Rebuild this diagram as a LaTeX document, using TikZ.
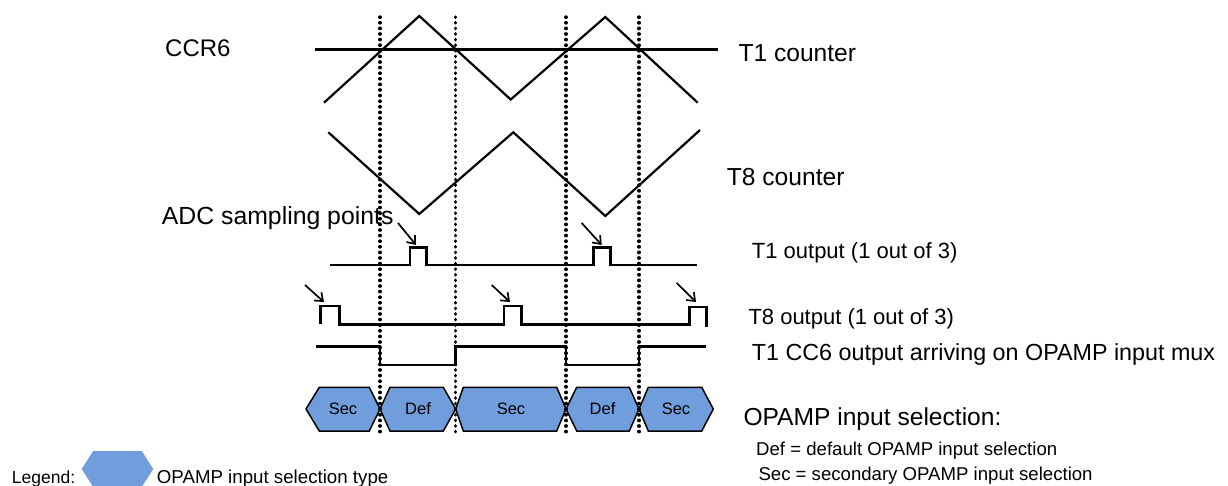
\documentclass[tikz,border=0pt]{standalone}
\usepackage{fontspec}
\setmainfont{Liberation Sans}
\usetikzlibrary{arrows.meta}
\definecolor{hexfill}{RGB}{112,158,220}
\newcommand{\fs}[1]{\fontsize{#1}{#1}\selectfont}
\begin{document}
\begin{tikzpicture}[x=1pt,y=-1pt,
  sig/.style={line width=2.8pt, line join=miter},
  tri/.style={line width=2.2pt, line join=miter},
  dots/.style={line width=3.4pt, dash pattern=on 0.4pt off 5.2pt, line cap=round},
  samp/.style={line width=1.7pt, -{Straight Barb[length=7pt,width=11pt,line width=1.7pt]}},
  hex/.style={draw=black, line width=1.5pt, fill=hexfill, line join=miter},
  lbl/.style={anchor=base west, inner sep=0pt},
  hexlbl/.style={inner sep=0pt, font=\fs{16.5}}]
\useasboundingbox (0,0) rectangle (1228,486);

% counters
\draw[sig] (315,49.3) -- (717.7,49.3);
\draw[tri] (324,102.7) -- (419.3,16) -- (510.7,99.5) -- (605.3,17) -- (697.7,102.7);
\draw[tri] (328.3,132.3) -- (419.3,214) -- (513.3,132.3) -- (605.3,216) -- (700,130);

% outputs
\draw[sig] (330,265) -- (410,265) -- (410,247.3) -- (426.7,247.3) -- (426.7,265) -- (593.3,265) -- (593.3,247.3) -- (610.7,247.3) -- (610.7,265) -- (696.7,265);
\draw[sig] (320.7,324.3) -- (320.7,306) -- (339.3,306) -- (339.3,324.3) -- (504,324.3) -- (504,306) -- (521.7,306) -- (521.7,324.3) -- (689.3,324.3) -- (689.3,307) -- (706.7,307) -- (706.7,326.7);
\draw[sig] (316,346.7) -- (380,346.7) -- (380,365) -- (455.7,365) -- (455.7,346.7) -- (566,346.7) -- (566,365) -- (639,365) -- (639,346.7) -- (706,346.7);

% sampling arrows
\coordinate (a1s) at (398,223);   \coordinate (a1e) at (416,245);
\coordinate (a2s) at (581.7,223); \coordinate (a2e) at (601.7,245);
\coordinate (b1s) at (305,285);   \coordinate (b1e) at (324,302);
\coordinate (b2s) at (491.7,285); \coordinate (b2e) at (510,302);
\coordinate (b3s) at (676.7,283); \coordinate (b3e) at (696,302);
\foreach \s/\e in {a1s/a1e,a2s/a2e,b1s/b1e,b2s/b2e,b3s/b3e}
  \draw[samp] (\s) -- (\e);

% hexagons
\foreach \l/\tl/\tr/\r in {306/319.3/369.3/380, 380/390/443.3/455.7, 455.7/463.3/556.7/566, 566/576.7/629.3/639, 639/648.3/701.7/713.3}
  \draw[hex] (\l,409) -- (\tl,387.3) -- (\tr,387.3) -- (\r,409) -- (\tr,431) -- (\tl,431) -- cycle;
\node[hexlbl] (h1) at (343,409) {Sec};
\node[hexlbl] (h2) at (418,409) {Def};
\node[hexlbl] (h3) at (511,409) {Sec};
\node[hexlbl] (h4) at (602.5,409) {Def};
\node[hexlbl] (h5) at (676,409) {Sec};

% dotted verticals
\foreach \x in {380,455.7,566,639}
  \draw[dots] (\x,17) -- (\x,436);

% labels
\node[lbl, font=\fs{24}] (ccr) at (165,56.7) {CCR6};
\node[lbl, font=\fs{24.6}] (t1c) at (738.3,61.7) {T1 counter};
\node[lbl, font=\fs{24.6}] (t8c) at (726.7,185.7) {T8 counter};
\node[lbl, font=\fs{24.8}] (adc) at (161.7,225) {ADC sampling points};
\node[lbl, font=\fs{22}] (t1o) at (751.7,258.3) {T1 output (1 out of 3)};
\node[lbl, font=\fs{22}] (t8o) at (748.3,324.3) {T8 output (1 out of 3)};
\node[lbl, font=\fs{23.3}] (cc6) at (751.7,360) {T1 CC6 output arriving on OPAMP input mux};
\node[lbl, font=\fs{24.6}] (sel) at (743.3,425) {OPAMP input selection:};
\node[lbl, font=\fs{18.6}] (def) at (756,455) {Def = default OPAMP input selection};
\node[lbl, font=\fs{18.6}] (sec) at (758.3,480) {Sec = secondary OPAMP input selection};

% legend
\node[lbl, font=\fs{17.5}] (leg) at (11.7,483) {Legend:};
\fill[hexfill] (81.7,469) -- (93.3,451) -- (141.7,451) -- (153.3,469) -- (141.7,487) -- (93.3,487) -- cycle;
\node[lbl, font=\fs{18.7}] (legt) at (156.7,483) {OPAMP input selection type};
\end{tikzpicture}
\end{document}
